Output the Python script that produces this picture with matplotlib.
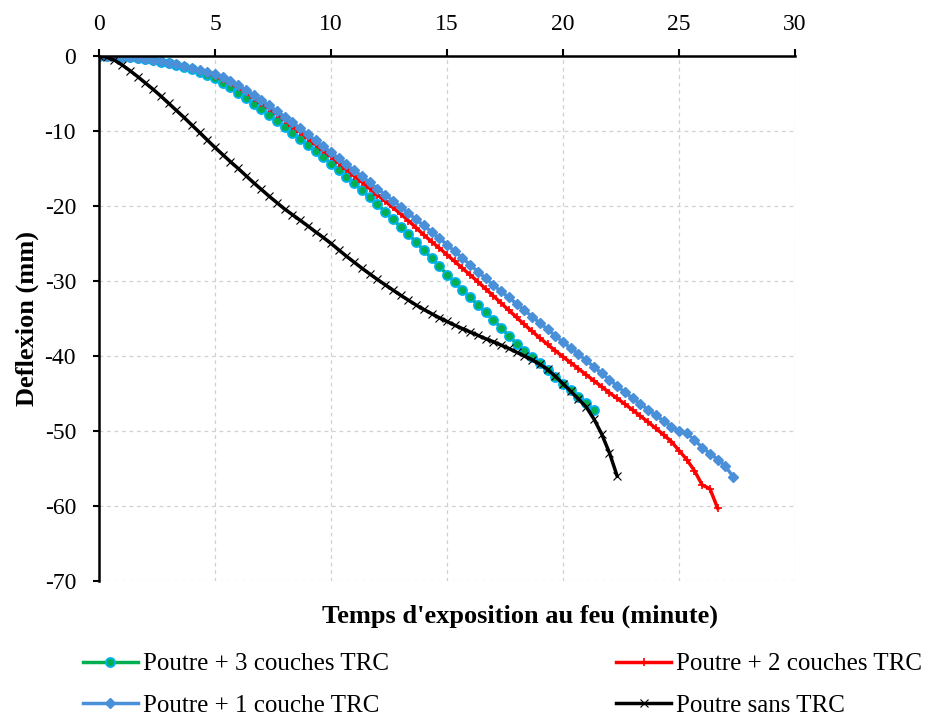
import numpy as np
import matplotlib
matplotlib.use("Agg")
import matplotlib.pyplot as plt

plt.rcParams["font.family"] = ["Liberation Serif", "DejaVu Serif"]
plt.rcParams["axes.unicode_minus"] = False

# sampling times (s), one reading every 20 s
time_s = [0, 20, 40, 60, 80, 100, 120, 140, 160, 180, 200, 220, 240, 260, 280,
          300, 320, 340, 360, 380, 400, 420, 440, 460, 480, 500, 520, 540, 560,
          580, 600, 620, 640, 660, 680, 700, 720, 740, 760, 780, 800, 820, 840,
          860, 880, 900, 920, 940, 960, 980, 1000, 1020, 1040, 1060, 1080, 1100,
          1120, 1140, 1160, 1180, 1200, 1220, 1240, 1260, 1280, 1300, 1320, 1340,
          1360, 1380, 1400, 1420, 1440, 1460, 1480, 1500, 1520, 1540, 1560, 1580,
          1600, 1620, 1640]

# deflection (mm)
defl_3c = [0, 0, -0.05, -0.1, -0.2, -0.3, -0.45, -0.6, -0.8, -1.0,
           -1.25, -1.5, -1.8, -2.1, -2.5, -2.95, -3.55, -4.2, -4.9, -5.6,
           -6.35, -7.1, -7.85, -8.65, -9.45, -10.25, -11.05, -11.85, -12.7, -13.5,
           -14.35, -15.2, -16.1, -17.0, -17.9, -18.85, -19.8, -20.75, -21.8, -22.75,
           -23.75, -24.8, -25.9, -26.95, -28.0, -29.15, -30.15, -31.2, -32.2, -33.2,
           -34.2, -35.2, -36.25, -37.3, -38.35, -39.3, -40.15, -41.0, -41.9, -42.8,
           -43.7, -44.55, -45.4, -46.3, -47.2]
defl_2c = [0, 0, -0.05, -0.1, -0.2, -0.3, -0.45, -0.6, -0.75, -0.95,
           -1.2, -1.45, -1.7, -2.0, -2.3, -2.65, -3.1, -3.65, -4.2, -4.85,
           -5.55, -6.25, -7.0, -7.75, -8.55, -9.35, -10.15, -10.95, -11.8, -12.6,
           -13.4, -14.25, -15.1, -15.95, -16.8, -17.65, -18.5, -19.35, -20.2, -21.05,
           -21.95, -22.9, -23.85, -24.75, -25.6, -26.5, -27.4, -28.3, -29.2, -30.1,
           -31.05, -32.0, -32.95, -33.9, -34.85, -35.8, -36.7, -37.6, -38.45, -39.3,
           -40.1, -40.9, -41.7, -42.5, -43.3, -44.1, -44.9, -45.65, -46.4, -47.2,
           -48.0, -48.8, -49.65, -50.5, -51.4, -52.6, -53.8, -55.3, -57.2, -57.7,
           -60.3]
defl_1c = [0, 0, -0.05, -0.1, -0.2, -0.3, -0.4, -0.55, -0.7, -0.9,
           -1.1, -1.35, -1.6, -1.85, -2.1, -2.4, -2.85, -3.35, -3.9, -4.55,
           -5.2, -5.9, -6.6, -7.35, -8.1, -8.85, -9.65, -10.45, -11.25, -12.05,
           -12.85, -13.65, -14.45, -15.25, -16.05, -16.85, -17.7, -18.5, -19.3, -20.1,
           -20.95, -21.8, -22.6, -23.45, -24.3, -25.15, -26.05, -26.95, -27.85, -28.75,
           -29.65, -30.55, -31.4, -32.2, -33.05, -33.9, -34.75, -35.6, -36.45, -37.3,
           -38.15, -38.95, -39.75, -40.6, -41.45, -42.3, -43.15, -44.0, -44.85, -45.6,
           -46.4, -47.15, -47.9, -48.65, -49.4, -49.95, -50.3, -51.2, -52.2, -53.0,
           -53.8, -54.7, -56.1]
defl_sans = [0, -0.15, -0.55, -1.2, -1.95, -2.75, -3.6, -4.45, -5.35, -6.3,
             -7.25, -8.2, -9.2, -10.2, -11.2, -12.2, -13.15, -14.1, -15.0, -15.95,
             -16.9, -17.8, -18.7, -19.55, -20.4, -21.15, -21.9, -22.65, -23.45, -24.2,
             -25.0, -25.85, -26.7, -27.5, -28.3, -29.05, -29.8, -30.5, -31.2, -31.9,
             -32.55, -33.2, -33.8, -34.35, -34.9, -35.4, -35.9, -36.35, -36.8, -37.25,
             -37.7, -38.1, -38.55, -39.0, -39.5, -40.0, -40.5, -41.1, -41.8, -42.7,
             -43.7, -44.7, -45.75, -46.8, -48.4, -50.4, -52.9, -56.0]

labels = ["Poutre + 3 couches TRC", "Poutre + 2 couches TRC",
          "Poutre + 1 couche TRC", "Poutre sans TRC"]

t_min = np.array(time_s) / 60.0

fig = plt.figure(figsize=(9.33, 7.15), dpi=100)
ax = fig.add_axes([0.1061, 0.1874, 0.7460, 0.7343])

lw = 2.5
l3, = ax.plot(t_min[:len(defl_3c)], defl_3c, color="#00B050", lw=lw, marker="o",
              ms=6.5, mfc="#00B050", mec="#00B0F0", mew=1.3, label=labels[0])
l2, = ax.plot(t_min[:len(defl_2c)], defl_2c, color="#FF0000", lw=lw, marker="+",
              ms=5.5, mew=1.2, label=labels[1])
l1, = ax.plot(t_min[:len(defl_1c)], defl_1c, color="#4A90D9", lw=lw, marker="D",
              ms=5.3, label=labels[2])
l0, = ax.plot(t_min[:len(defl_sans)], defl_sans, color="black", lw=lw, marker="x",
              ms=5.5, mew=0.8, label=labels[3])

ax.set_xlim(0, 30)
ax.set_ylim(-70, 0)
ax.set_xticks(range(0, 31, 5))
ax.set_yticks(range(-70, 1, 10))

ax.xaxis.tick_top()
ax.tick_params(axis="x", direction="out", length=5, width=1.5, labelsize=17, pad=10)
ax.tick_params(axis="y", direction="out", length=4.5, width=1.5, labelsize=17, pad=12)

ax.spines["right"].set_visible(False)
ax.spines["bottom"].set_visible(False)
ax.spines["top"].set_linewidth(1.8)
ax.spines["left"].set_linewidth(1.8)

ax.grid(True, color="#D0D0D0", linestyle=(0, (3, 3)), linewidth=0.9)
ax.set_axisbelow(True)

ax.set_ylabel("Deflexion (mm)", fontsize=19, fontweight="bold", labelpad=4)
ax.set_xlabel("Temps d'exposition au feu (minute)", fontsize=19, fontweight="bold")
ax.xaxis.set_label_position("bottom")
ax.xaxis.set_label_coords(0.605, -0.045)

fig.legend(handles=[l3, l1, l2, l0], loc="upper left", bbox_to_anchor=(0.078, 0.101),
           ncol=2, frameon=False, fontsize=18, handlelength=2.2, handletextpad=0.2,
           columnspacing=9.1, labelspacing=0.75, borderaxespad=0)

fig.savefig("out.png", dpi=100)
